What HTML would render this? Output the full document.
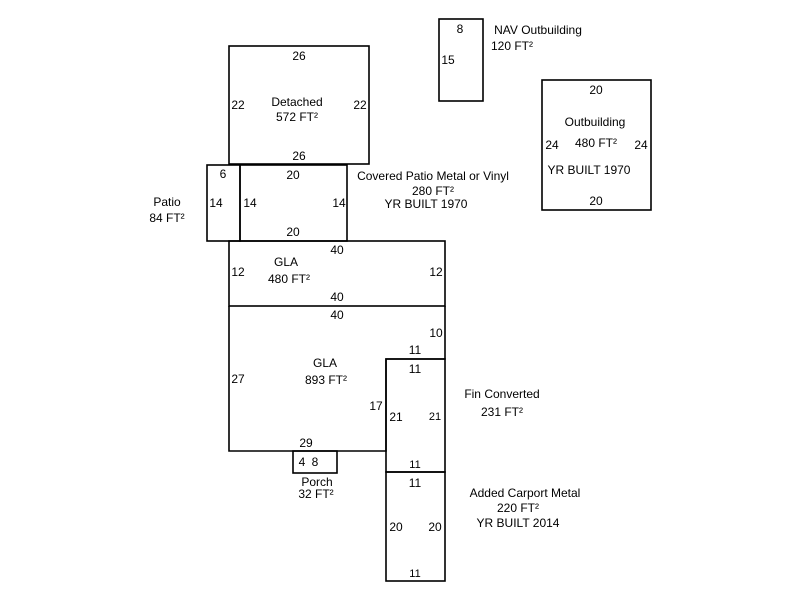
<!DOCTYPE html>
<html><head><meta charset="utf-8"><style>
body{margin:0;background:#fff;width:800px;height:600px;overflow:hidden}
svg text{font-family:"Liberation Sans",Arial,sans-serif;font-size:12px;fill:#000}
</style></head><body>
<svg width="800" height="600" viewBox="0 0 800 600" xmlns="http://www.w3.org/2000/svg">
<g fill="none" stroke="#000" stroke-width="1.6">
<rect x="229" y="46" width="140" height="118"/>
<rect x="207" y="165" width="33" height="76"/>
<rect x="240" y="165" width="107" height="76"/>
<rect x="229" y="241" width="216" height="65"/>
<polyline points="229,306 229,451 386,451 386,359 445,359 445,306"/>
<rect x="386" y="359" width="59" height="113"/>
<rect x="293" y="451" width="44" height="22"/>
<rect x="386" y="472" width="59" height="109"/>
<rect x="439" y="19" width="44" height="82"/>
<rect x="542" y="80" width="109" height="130"/>
</g>
<g text-anchor="middle">
<text x="299" y="60">26</text><text x="238" y="109">22</text><text x="360" y="109">22</text>
<text x="297" y="106">Detached</text><text x="297" y="121">572 FT²</text><text x="299" y="160">26</text>
<text x="223" y="178">6</text><text x="216" y="207">14</text>
<text x="167" y="206">Patio</text><text x="167" y="222">84 FT²</text>
<text x="293" y="179">20</text><text x="250" y="207">14</text><text x="339" y="207">14</text><text x="293" y="236">20</text>
<text x="433" y="180">Covered Patio Metal or Vinyl</text><text x="433" y="195">280 FT²</text><text x="426" y="208">YR BUILT 1970</text>
<text x="337" y="254">40</text><text x="238" y="276">12</text><text x="436" y="276">12</text>
<text x="286" y="266">GLA</text><text x="289" y="283">480 FT²</text><text x="337" y="301">40</text>
<text x="337" y="319">40</text><text x="436" y="337">10</text><text x="415" y="354">11</text>
<text x="325" y="367">GLA</text><text x="326" y="384">893 FT²</text><text x="238" y="383">27</text>
<text x="376" y="410">17</text><text x="306" y="447">29</text>
<text x="415" y="373">11</text><text x="396" y="421">21</text><text x="435" y="420" style="font-size:11px">21</text><text x="415" y="468" style="font-size:11px">11</text>
<text x="502" y="398">Fin Converted</text><text x="502" y="416">231 FT²</text>
<text x="302" y="466">4</text><text x="315" y="466">8</text>
<text x="317" y="486">Porch</text><text x="316" y="498">32 FT²</text>
<text x="415" y="487">11</text><text x="396" y="531">20</text><text x="435" y="531">20</text><text x="415" y="577" style="font-size:11px">11</text>
<text x="525" y="497">Added Carport Metal</text><text x="518" y="512">220 FT²</text><text x="518" y="527">YR BUILT 2014</text>
<text x="460" y="33">8</text><text x="448" y="64">15</text>
<text x="538" y="34">NAV Outbuilding</text><text x="512" y="50">120 FT²</text>
<text x="596" y="94">20</text><text x="595" y="126">Outbuilding</text><text x="596" y="147">480 FT²</text>
<text x="552" y="149">24</text><text x="641" y="149">24</text><text x="589" y="174">YR BUILT 1970</text><text x="596" y="205">20</text>
</g>
</svg>
</body></html>
